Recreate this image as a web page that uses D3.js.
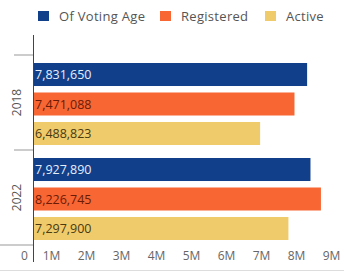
<!DOCTYPE html>
<html>
<head>
<meta charset="utf-8">
<script src="https://cdn.jsdelivr.net/npm/d3@7"></script>
<style>
  body { margin: 0; background: #fff; }
  svg { font-family: "Open Sans", sans-serif; }
</style>
</head>
<body>
<div id="chart"></div>
<script>
var years = ["2018", "2022"];
var seriesNames = ["Of Voting Age", "Registered", "Active"];
var values2018 = [7831650, 7471088, 6488823];
var values2022 = [7927890, 8226745, 7297900];
var xTicks = [0, 1e6, 2e6, 3e6, 4e6, 5e6, 6e6, 7e6, 8e6, 9e6];

var colors = ["#123f8a", "#f86634", "#efcb6c"];
var labelColors = ["#e6eefc", "#6b1a05", "#4a3a10"];

var width = 344, height = 272;

var data = [
  { year: years[0], values: values2018 },
  { year: years[1], values: values2022 }
];

var svg = d3.select("#chart").append("svg")
  .attr("width", width)
  .attr("height", height);

var x = d3.scaleLinear()
  .domain([0, 9e6])
  .range([33, 348]);

var y0 = d3.scaleBand()
  .domain(years)
  .range([55, 245]);

var y1 = d3.scaleBand()
  .domain(seriesNames)
  .range([8, 90])
  .paddingInner(0.22);

var fmt = d3.format(",");

// legend
var legend = svg.selectAll(".legend")
  .data(seriesNames)
  .enter().append("g")
  .attr("class", "legend")
  .attr("transform", function(d, i) {
    return "translate(" + [38, 160, 265][i] + ",11)";
  });

legend.append("rect")
  .attr("width", 11)
  .attr("height", 10)
  .style("fill", function(d, i) { return colors[i]; });

legend.append("text")
  .attr("x", 21)
  .attr("y", 9.5)
  .style("font-size", "13px")
  .style("letter-spacing", "0.3px")
  .style("fill", "#555")
  .text(function(d) { return d; });

// groups
var groups = svg.selectAll(".group")
  .data(data)
  .enter().append("g")
  .attr("class", "group")
  .attr("transform", function(d) { return "translate(0," + y0(d.year) + ")"; });

groups.selectAll("rect")
  .data(function(d) { return d.values; })
  .enter().append("rect")
  .attr("x", x(0))
  .attr("y", function(d, i) { return y1(seriesNames[i]); })
  .attr("width", function(d) { return x(d) - x(0); })
  .attr("height", y1.bandwidth())
  .style("fill", function(d, i) { return colors[i]; });

groups.selectAll(".val")
  .data(function(d) { return d.values; })
  .enter().append("text")
  .attr("class", "val")
  .attr("x", x(0) + 2)
  .attr("y", function(d, i) { return y1(seriesNames[i]) + y1.bandwidth() / 2; })
  .attr("dy", "0.36em")
  .style("font-size", "12.5px")
  .style("fill", function(d, i) { return labelColors[i]; })
  .text(function(d) { return fmt(d); });

groups.append("text")
  .attr("transform", "translate(21," + (y0.bandwidth() / 2) + ") rotate(-90)")
  .attr("text-anchor", "middle")
  .style("font-size", "12px")
  .style("fill", "#555")
  .text(function(d) { return d.year; });

// category separators
svg.selectAll(".sep")
  .data([55, 150, 245])
  .enter().append("line")
  .attr("class", "sep")
  .attr("x1", function(d, i) { return i === 2 ? 0 : 14; })
  .attr("x2", 33)
  .attr("y1", function(d) { return d; })
  .attr("y2", function(d) { return d; })
  .style("stroke", "#999")
  .style("stroke-width", 1);

// y axis line
svg.append("line")
  .attr("x1", 33.5).attr("x2", 33.5)
  .attr("y1", 35).attr("y2", 262)
  .style("stroke", "#444")
  .style("stroke-width", 1);

// x axis labels
var xAxis = d3.axisBottom(x)
  .tickValues(xTicks)
  .tickSize(0)
  .tickFormat(function(d) { return d === 0 ? "0" : (d / 1e6) + "M"; });

var gx = svg.append("g")
  .attr("transform", "translate(0,248)")
  .call(xAxis);
gx.select(".domain").remove();
gx.selectAll("text")
  .attr("dx", function(d) { return d === 0 ? -9 : -17; })
  .style("font-family", "Open Sans, sans-serif")
  .style("font-size", "12px")
  .style("fill", "#666");

// bottom border
svg.append("line")
  .attr("x1", 0).attr("x2", width)
  .attr("y1", 270.5).attr("y2", 270.5)
  .style("stroke", "#ddd");
</script>
</body>
</html>
